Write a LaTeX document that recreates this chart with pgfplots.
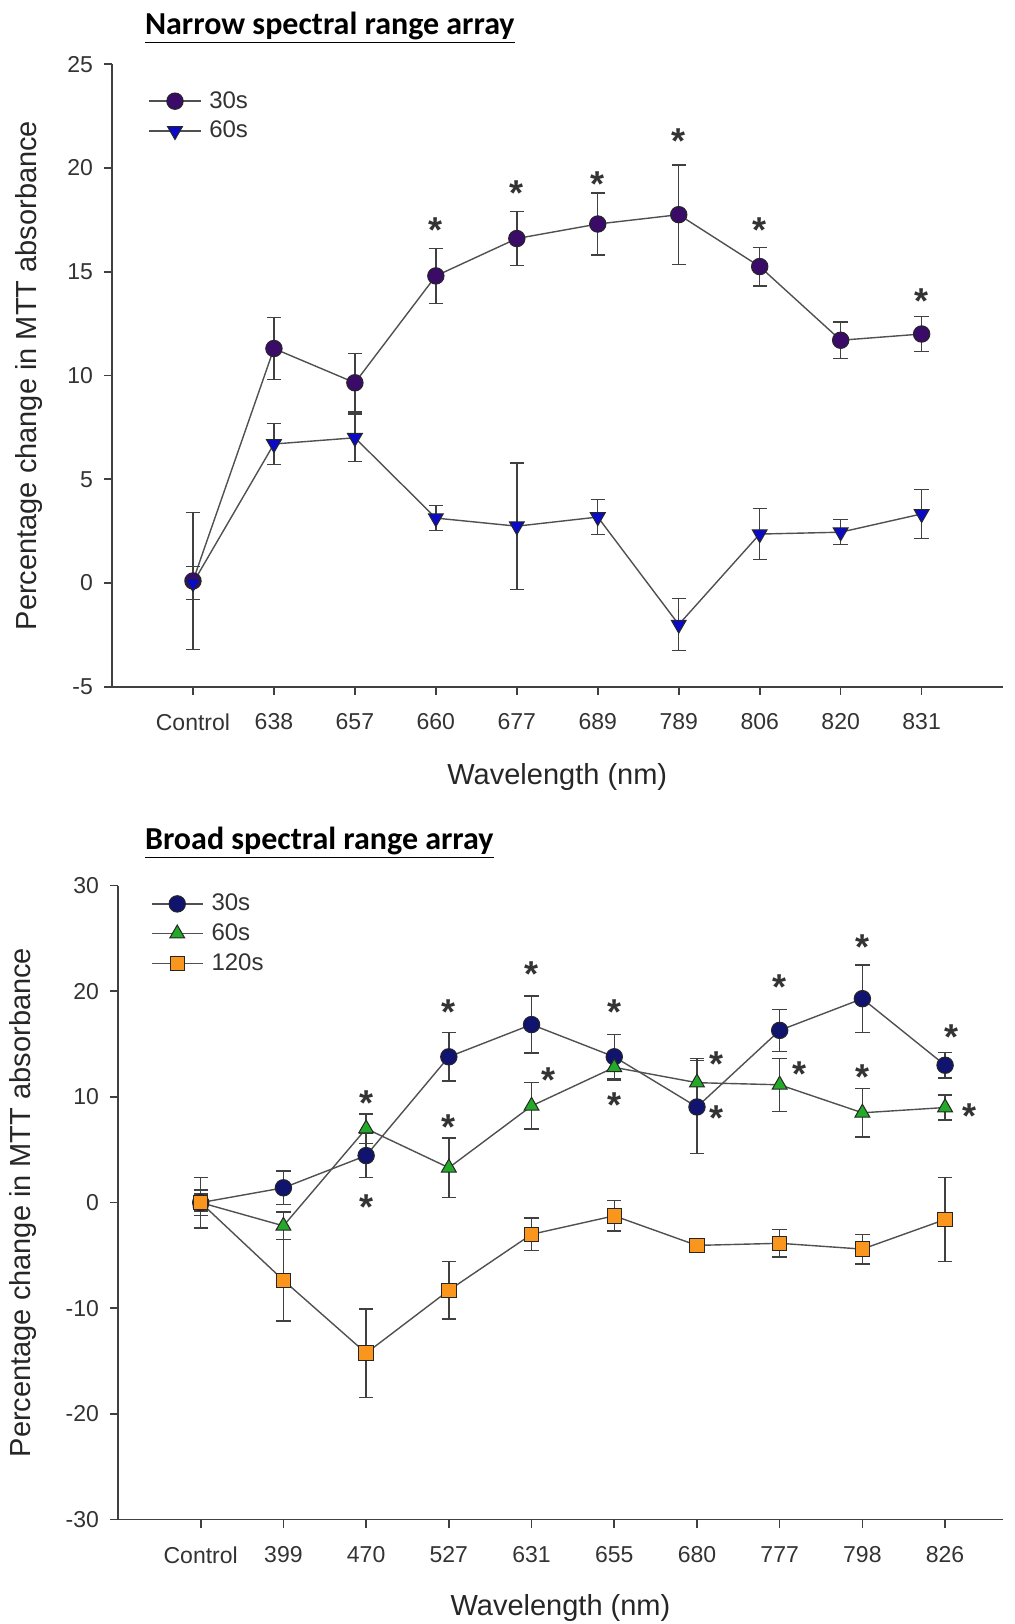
\documentclass[border=0pt]{standalone}
\usepackage{fontspec}
\setmainfont{Liberation Sans}
\newfontfamily\titlefont{Carlito}
\usepackage{pgfplots}
\pgfplotsset{compat=1.18}

\definecolor{purp}{RGB}{58,12,104}
\definecolor{blu}{RGB}{10,10,200}
\definecolor{navy}{RGB}{16,20,110}
\definecolor{grn}{RGB}{34,170,40}
\definecolor{org}{RGB}{250,150,30}
\definecolor{ln}{RGB}{80,80,80}

\pgfplotsset{
  spectral/.style={
    scale only axis,
    axis x line*=bottom,
    axis y line*=left,
    axis line style={line width=0.8pt, black!75, -},
    tick align=outside,
    major tick length=4pt,
    tick style={line width=0.8pt, black!75},
    xtick={0,...,9},
    xmin=-1,
    tick label style={font=\fontsize{11.5}{13}\selectfont, text=black!80},
    yticklabel style={xshift=-2pt},
    xticklabel style={yshift=-6pt},
    label style={font=\fontsize{14.5}{16}\selectfont, text=black!85},
    /pgf/number format/assume math mode=true,
    legend style={draw=none, fill=none, font=\fontsize{12}{14}\selectfont,
      text=black!80, row sep=1pt, anchor=north west,
      nodes={inner xsep=4pt}},
    legend cell align=left,
    legend image code/.code={\draw[mark repeat=2,mark phase=2]
      plot coordinates {(0cm,0cm)(0.45cm,0cm)(0.9cm,0cm)};},
  },
  series/.style={draw=ln, line width=0.7pt,
    mark options={draw=black!85, line width=0.5pt, fill=#1},
    error bars/y dir=both, error bars/y explicit,
    error bars/error bar style={line width=0.7pt, black!75},
    error bars/error mark options={rotate=90, line width=0.7pt, black!75,
      mark size=3.6pt}},
  stars/.style={forget plot, only marks, mark=text,
    text mark={*}, text mark as node=true,
    text mark style={font=\bfseries\fontsize{18}{18}\selectfont, text=black!80}},
}

\begin{document}
\begin{tikzpicture}
\useasboundingbox (0,0) rectangle (507pt,-812pt);

% narrow spectral range
\begin{axis}[spectral,
  at={(56pt,-32.1pt)}, anchor=north west,
  width=445.3pt, height=311.3pt,
  xmax=10, ymin=-5, ymax=25, ytick={-5,0,...,25},
  xticklabels={Control,638,657,660,677,689,789,806,820,831},
  xlabel={Wavelength (nm)},
  ylabel={Percentage change in MTT absorbance},
  xlabel style={at={(axis description cs:0.5,0)}, anchor=center, yshift=-45pt},
  ylabel style={at={(axis description cs:-0.093,0.5)}, anchor=center},
  legend style={at={(axis description cs:0.034,0.97)}},
]
\addplot[series=purp, mark=*, mark size=4.1pt] coordinates {
  (0,0.1) +- (0,3.3) (1,11.3) +- (0,1.5) (2,9.65) +- (0,1.4)
  (3,14.8) +- (0,1.33) (4,16.6) +- (0,1.3) (5,17.3) +- (0,1.5)
  (6,17.75) +- (0,2.4) (7,15.25) +- (0,0.93) (8,11.7) +- (0,0.88)
  (9,12.0) +- (0,0.83)};
\addlegendentry{30s}
\addplot[series=blu, mark=triangle*, mark size=4.3pt,
  mark options={draw=black!85, line width=0.5pt, fill=blu, rotate=180}]
  coordinates {
  (0,0.0) +- (0,0.8) (1,6.7) +- (0,1.0) (2,7.0) +- (0,1.15)
  (3,3.13) +- (0,0.6) (4,2.74) +- (0,3.05) (5,3.18) +- (0,0.85)
  (6,-2.0) +- (0,1.25) (7,2.36) +- (0,1.23) (8,2.45) +- (0,0.6)
  (9,3.33) +- (0,1.18)};
\addlegendentry{60s}
\addplot[stars] coordinates {
  (3,17.0) (4,18.8) (5,19.2) (6,21.3) (7,17.0) (9,13.6)};
\end{axis}
\node[anchor=base west, font=\titlefont\bfseries\fontsize{16}{18}\selectfont]
  at (69pt,-17pt) {\underline{Narrow spectral range array}};

% broad spectral range
\begin{axis}[spectral,
  at={(59pt,-442.8pt)}, anchor=north west,
  width=442.5pt, height=317pt,
  xmax=9.7, ymin=-30, ymax=30, ytick={-30,-20,...,30},
  xticklabels={Control,399,470,527,631,655,680,777,798,826},
  xlabel={Wavelength (nm)},
  ylabel={Percentage change in MTT absorbance},
  xlabel style={at={(axis description cs:0.5,0)}, anchor=center, yshift=-44pt},
  ylabel style={at={(axis description cs:-0.107,0.5)}, anchor=center},
  legend style={at={(axis description cs:0.03,1.0)}},
]
\addplot[series=navy, mark=*, mark size=4.1pt] coordinates {
  (0,0) +- (0,2.4) (1,1.4) +- (0,1.6) (2,4.45) +- (0,2.1)
  (3,13.8) +- (0,2.3) (4,16.85) +- (0,2.7) (5,13.8) +- (0,2.1)
  (6,9.05) +- (0,4.4) (7,16.3) +- (0,2.0) (8,19.3) +- (0,3.2)
  (9,13.0) +- (0,1.2)};
\addlegendentry{30s}
\addplot[series=grn, mark=triangle*, mark size=4.3pt] coordinates {
  (0,0) +- (0,0.8) (1,-2.2) +- (0,1.3) (2,7.0) +- (0,1.4)
  (3,3.3) +- (0,2.8) (4,9.15) +- (0,2.2) (5,12.8) +- (0,1.2)
  (6,11.35) +- (0,2.3) (7,11.15) +- (0,2.5) (8,8.5) +- (0,2.3)
  (9,9.0) +- (0,1.2)};
\addlegendentry{60s}
\addplot[series=org, mark=square*, mark size=3.6pt] coordinates {
  (0,0) +- (0,1.2) (1,-7.35) +- (0,3.85) (2,-14.25) +- (0,4.2)
  (3,-8.3) +- (0,2.7) (4,-3.0) +- (0,1.55) (5,-1.25) +- (0,1.45)
  (6,-4.05) +- (0,0.5) (7,-3.85) +- (0,1.3) (8,-4.4) +- (0,1.4)
  (9,-1.6) +- (0,3.95)};
\addlegendentry{120s}
\addplot[stars] coordinates {
  (2,-0.4) (3,18.0) (4,21.6) (5,18.0) (6.24,8.0) (7,20.4) (8,24.2) (9.08,15.7)};
\addplot[stars] coordinates {
  (2,9.4) (3,7.1) (4.2,11.6) (5,9.2) (6.24,13.1) (7.24,12.2) (8,11.9) (9.3,8.2)};
\end{axis}
\node[anchor=base west, font=\titlefont\bfseries\fontsize{16}{18}\selectfont]
  at (69pt,-424.5pt) {\underline{Broad spectral range array}};
\end{tikzpicture}
\end{document}
